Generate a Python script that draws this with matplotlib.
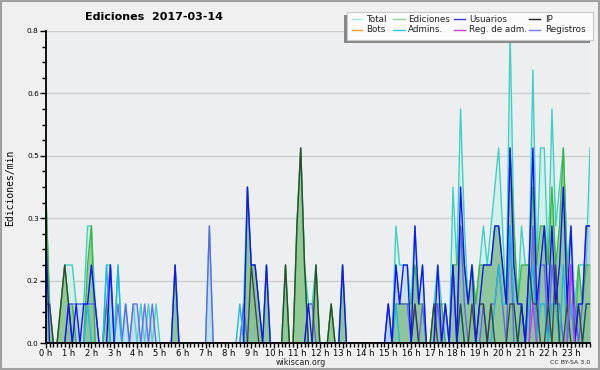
import numpy as np
import matplotlib
matplotlib.use("Agg")
import matplotlib.pyplot as plt
from matplotlib.lines import Line2D
from matplotlib.patches import Rectangle

# 10-minute bins (edits per bin); rate = count / 10 per minute
hours = list(range(24))
hour_labels = [f"{h} h" for h in hours]

total = [4,1,0,0,1,2, 2,2,1,1,1,3, 3,1,0,0,2,2, 0,2,0,1,0,1,
         0,1,0,1,0,1, 0,0,0,0,2,0, 0,0,0,0,0,0, 0,3,0,0,0,0,
         0,0,0,0,1,4, 2,2,1,0,2,0, 0,0,0,2,0,0, 3,5,2,1,1,2,
         0,0,0,1,0,0, 2,0,0,0,0,0, 0,0,0,0,0,0, 1,0,3,2,2,2,
         1,3,1,2,0,0, 1,2,1,1,0,4, 2,6,3,1,2,1, 2,3,2,3,4,5,
         3,1,8,3,1,3, 2,2,7,2,5,5, 2,6,3,4,5,2, 3,1,2,2,2,5]
edits = [4,1,0,0,1,2, 1,1,0,0,0,2, 3,0,0,0,1,0, 0,0,0,0,0,0,
         0,0,0,0,0,0, 0,0,0,0,2,0, 0,0,0,0,0,0, 0,0,0,0,0,0,
         0,0,0,0,0,4, 2,2,1,0,2,0, 0,0,0,2,0,0, 3,5,2,0,0,2,
         0,0,0,1,0,0, 2,0,0,0,0,0, 0,0,0,0,0,0, 0,0,1,1,1,1,
         1,2,1,1,0,0, 1,1,1,0,0,2, 2,3,2,1,2,1, 2,2,2,2,3,3,
         2,1,5,3,1,2, 2,2,4,2,3,3, 2,4,2,3,5,2, 1,0,2,1,2,2]
users = [3,0,0,0,0,0, 1,0,1,0,1,1, 2,1,0,0,0,2, 0,0,0,0,0,0,
         0,0,0,0,0,0, 0,0,0,0,2,0, 0,0,0,0,0,0, 0,0,0,0,0,0,
         0,0,0,0,0,4, 2,2,1,0,2,0, 0,0,0,0,0,0, 0,0,0,1,0,0,
         0,0,0,0,0,0, 2,0,0,0,0,0, 0,0,0,0,0,0, 1,0,2,1,2,2,
         0,3,1,2,0,0, 0,2,0,1,0,2, 0,4,2,1,2,0, 1,2,2,2,3,3,
         2,1,5,2,1,1, 0,2,5,1,2,3, 1,3,1,2,4,1, 3,0,1,1,3,3]
ip = [1,1,0,0,1,2, 1,0,0,0,0,0, 0,0,0,0,0,0, 0,0,0,0,0,0,
      0,0,0,0,0,0, 0,0,0,0,0,0, 0,0,0,0,0,0, 0,0,0,0,0,0,
      0,0,0,0,0,0, 2,1,0,0,0,0, 0,0,0,2,0,0, 3,5,2,0,0,2,
      0,0,0,1,0,0, 0,0,0,0,0,0, 0,0,0,0,0,0, 0,0,0,0,0,0,
      0,1,0,0,0,0, 1,0,0,0,0,0, 0,1,0,0,1,0, 1,1,0,1,0,0,
      0,0,1,1,0,1, 0,2,1,1,0,0, 1,0,2,0,0,1, 0,0,1,0,1,1]
bots = [0] * 144
admins = [0,0,0,0,0,0, 0,0,0,0,0,1, 0,0,0,0,2,0, 0,2,0,0,0,0,
          0,0,0,0,0,0, 0,0,0,0,0,0, 0,0,0,0,0,0, 0,0,0,0,0,0,
          0,0,0,1,0,0, 0,0,0,0,0,0, 0,0,0,0,0,0, 0,0,0,0,0,0,
          0,0,0,0,0,0, 0,0,0,0,0,0, 0,0,0,0,0,0, 0,0,1,0,0,0,
          0,0,0,0,0,0, 0,0,0,0,0,0, 0,1,0,0,0,0, 0,0,0,0,1,2,
          1,1,3,1,0,1, 0,1,2,0,1,1, 0,1,1,0,2,0, 1,0,0,0,1,1]
reg_adm = [0] * 128 + [1, 0, 0, 0, 0, 0, 0, 0, 0, 0, 2, 0, 0, 0, 0, 0]
logs = [0,0,0,0,0,0, 1,1,1,1,1,1, 1,1,0,0,1,2, 0,1,0,1,0,1,
        1,0,1,0,1,0, 0,0,0,0,0,0, 0,0,0,0,0,0, 0,3,0,0,0,0,
        0,0,0,0,1,0, 0,0,0,0,0,0, 0,0,0,0,0,0, 0,0,0,1,1,0,
        0,0,0,0,0,0, 0,0,0,0,0,0, 0,0,0,0,0,0, 1,0,2,1,1,1,
        0,1,0,1,0,0, 0,1,0,1,0,2, 0,3,1,0,0,0, 0,1,0,1,1,2,
        1,0,3,0,0,1, 0,0,3,0,2,2, 0,2,1,1,0,0, 2,1,0,1,3,3]

minutes = np.arange(len(total)) * 10
def rate(a):
    return np.asarray(a, dtype=float) / 10.0

W, H = 600, 370
fig = plt.figure(figsize=(6, 3.7), dpi=100, facecolor="#f0f0f0")
def fx(px): return px / W
def fy(py): return 1 - py / H

ax = fig.add_axes([fx(45.7), fy(343), (590 - 45.7) / W, (343 - 31) / H])
ax.set_facecolor("#eceef0")

# Total
ax.fill_between(minutes, rate(total), color="#d2efe9", alpha=0.9, lw=0, zorder=1)
ax.plot(minutes, rate(total), color="#3fd0c6", lw=1.0, zorder=1.2)
# Registros
ax.fill_between(minutes, rate(logs), color="#9cc6e6", alpha=0.35, lw=0, zorder=1.3)
# Ediciones
ax.fill_between(minutes, rate(edits), color="#92cc92", alpha=0.9, lw=0, zorder=1.4)
ax.plot(minutes, rate(edits), color="#3cb83c", lw=1.0, zorder=1.5)
ax.fill_between(minutes, rate(ip), color="#2f6f6f", alpha=0.05, lw=0, zorder=1.6)
ax.fill_between(minutes, rate(users), color="#3050c0", alpha=0.07, lw=0, zorder=1.6)
ax.plot(minutes, rate(logs), color="#5a5af0", lw=1.0, alpha=0.85, zorder=1.7)
ax.plot(minutes, rate(admins), color="#22b8dc", lw=1.0, zorder=1.75)
ax.plot(minutes, rate(ip), color="#2a3a30", lw=1.0, alpha=0.85, zorder=1.8)
ax.plot(minutes, rate(users), color="#1515f5", lw=1.0, zorder=1.9)
ax.plot(minutes, rate(reg_adm), color="#c838e8", lw=1.0, zorder=1.95)
ax.plot(minutes, rate(bots), color="#ff9933", lw=1.0, zorder=0.9)

ax.set_xlim(0, 1430)
ax.set_ylim(0, 0.8)

yt = np.linspace(0, 0.8, 6)
ax.set_yticks(yt)
ax.set_yticklabels([f"{v:.1f}" for v in yt], fontsize=5.3)
ax.set_yticks(np.linspace(0, 0.8, 21), minor=True)
for v in yt[1:]:
    ax.axhline(v, color="#cdcdcd", lw=1.0, zorder=0.5)

ax.set_xticks([h * 60 for h in hours])
ax.set_xticklabels(hour_labels, fontsize=6)
ax.set_xticks(np.arange(0, 1431, 10), minor=True)

ax.tick_params(axis="y", which="major", direction="out", length=4, width=1, color="black", pad=1)
ax.tick_params(axis="x", which="major", direction="out", length=3.5, width=1, color="black", pad=0.5)
ax.tick_params(axis="both", which="minor", direction="out", length=3, width=1, color="black")
for s in ("top", "right"):
    ax.spines[s].set_visible(False)
for s in ("left", "bottom"):
    ax.spines[s].set_linewidth(1.3)
    ax.spines[s].set_zorder(3)

fig.text(fx(154), fy(17), "Ediciones  2017-03-14", fontsize=8, fontweight="bold",
         ha="center", va="center")
fig.text(fx(10), fy(188), "Ediciones/min", rotation=90, fontsize=7,
         family="DejaVu Sans Mono", ha="center", va="center")
fig.text(fx(301), fy(362.5), "wikiscan.org", fontsize=5.8, ha="center", va="center", color="#222222")
fig.text(fx(590), fy(362.5), "CC BY-SA 3.0", fontsize=4.5, ha="right", va="center", color="#222222")

# legend (manual)
fig.add_artist(Rectangle((fx(344), fy(43)), (593 - 347) / W, (43 - 14.5) / H,
                         transform=fig.transFigure, facecolor="#888888", edgecolor="none", zorder=5))
fig.add_artist(Rectangle((fx(347), fy(40)), (593 - 347) / W, (40 - 11.7) / H,
                         transform=fig.transFigure, facecolor="#fbfbfb", edgecolor="#c8c8c8",
                         lw=0.8, zorder=6))
leg_names = ["Total", "Ediciones", "Usuarios", "IP", "Bots", "Admins.", "Reg. de adm.", "Registros"]
leg_colors = ["#a8e6e2", "#8fd48f", "#3a3ae0", "#222222", "#ff9933", "#33c6dc", "#cc3ccc", "#7a7af0"]
col_line = [(352, 362), (393, 405), (454, 465), (529, 540)]
col_text = [366, 408, 469, 545]
rows = [19, 29.5]
for k, (name, c) in enumerate(zip(leg_names, leg_colors)):
    r, col = divmod(k, 4)
    x0, x1 = col_line[col]
    fig.add_artist(Line2D([fx(x0), fx(x1)], [fy(rows[r]), fy(rows[r])], transform=fig.transFigure,
                          color=c, lw=1.0, zorder=7))
    fig.text(fx(col_text[col]), fy(rows[r]), name, fontsize=6.3, ha="left", va="center", zorder=7,
             color="#222222")

# outer frame
fig.add_artist(Rectangle((0.001, 0.002), 0.997, 0.995, transform=fig.transFigure,
                         facecolor="none", edgecolor="#a0a0a0", lw=1.5, zorder=10))

fig.savefig("out.png", dpi=100, facecolor=fig.get_facecolor())
